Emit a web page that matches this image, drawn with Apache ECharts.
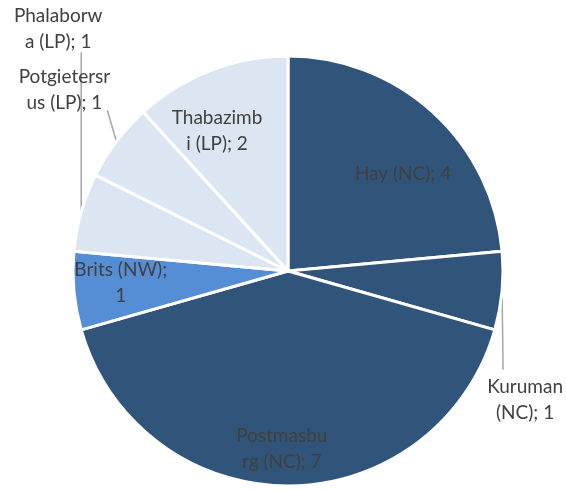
<!DOCTYPE html>
<html>
<head>
<meta charset="utf-8">
<script src="https://cdn.jsdelivr.net/npm/echarts@6/dist/echarts.min.js"></script>
<style>
  html, body { margin: 0; background: #fff; }
  #chart { width: 566px; height: 490px; }
</style>
</head>
<body>
<div id="chart"></div>
<script>
// data, clockwise from 12 o'clock
var towns = ['Hay (NC)', 'Kuruman (NC)', 'Postmasburg (NC)', 'Brits (NW)', 'Phalaborwa (LP)', 'Potgietersrus (LP)', 'Thabazimbi (LP)']
var counts = [4, 1, 7, 1, 1, 1, 2]
// label text, wrapped the way the original wraps it
var labelText = ['Hay (NC); 4', 'Kuruman\n(NC); 1', 'Postmasbu\nrg (NC); 7', 'Brits (NW);\n1', 'Phalaborw\na (LP); 1', 'Potgietersr\nus (LP); 1', 'Thabazimb\ni (LP); 2']

var DARK = '#31547a'
var MID = '#558ed5'
var LIGHT = '#dce6f2'
var sliceColors = [DARK, DARK, DARK, MID, LIGHT, LIGHT, LIGHT]

// label placement: inside labels pushed out along the radius (r = share of radius, turn = degrees),
// outside labels offset from the slice edge with a straight leader (dx/dy label centre, lx/ly line end)
var placement = [
  { inside: true, r: 0.70, turn: 7.5 },
  { dx: 23, dy: 109, lx: 1, ly: 79 },
  { inside: true, r: 0.83, turn: 2 },
  { inside: true, r: 0.78, turn: 1.2 },
  { dx: -23, dy: -183, lx: 0, ly: -160 },
  { dx: -52, dy: -52, lx: -9, ly: -31 },
  { inside: true, r: 0.73, turn: -5.7 }
]

var myChart = echarts.init(document.getElementById('chart'))
var CX = 288
var CY = 271
var R = 215

var data = towns.map(function (t, i) {
  var inside = placement[i].inside
  return {
    name: t,
    value: counts[i],
    itemStyle: { color: sliceColors[i] },
    label: { position: inside ? 'inside' : 'outside' },
    labelLine: { show: !inside }
  }
})

var option = {
  animation: false,
  series: [
    {
      type: 'pie',
      center: [CX, CY],
      radius: R,
      startAngle: 90,
      clockwise: true,
      avoidLabelOverlap: false,
      emphasis: { disabled: true },
      itemStyle: { borderColor: '#ffffff', borderWidth: 3 },
      label: {
        formatter: function (p) { return labelText[p.dataIndex] },
        fontFamily: 'Lato',
        fontSize: 19,
        lineHeight: 26,
        color: '#404040',
        align: 'center'
      },
      labelLine: {
        length: 20,
        length2: 0,
        lineStyle: { color: '#a6a6a6', width: 1.5 }
      },
      labelLayout: function (p) {
        var pl = placement[p.dataIndex]
        var lr = p.labelRect
        if (pl.inside) {
          var mx = lr.x + lr.width / 2 - CX
          var my = lr.y + lr.height / 2 - CY
          var a = Math.atan2(mx, -my) + pl.turn * Math.PI / 180
          return {
            x: CX + R * pl.r * Math.sin(a),
            y: CY - R * pl.r * Math.cos(a),
            align: 'center',
            verticalAlign: 'middle'
          }
        }
        var a0 = p.labelLinePoints[0]
        return {
          x: a0[0] + pl.dx,
          y: a0[1] + pl.dy,
          align: 'center',
          verticalAlign: 'middle',
          labelLinePoints: [a0, [a0[0] + pl.lx, a0[1] + pl.ly]]
        }
      },
      data: data
    }
  ]
}

myChart.setOption(option)
</script>
</body>
</html>
